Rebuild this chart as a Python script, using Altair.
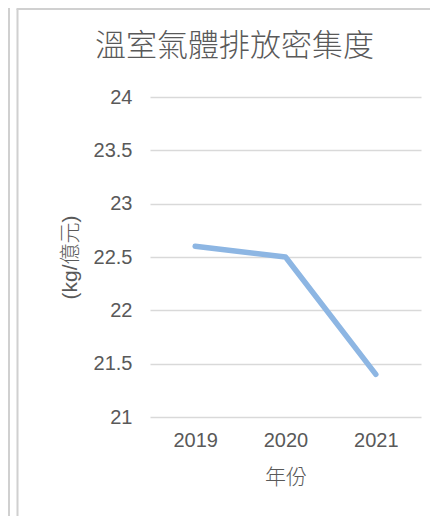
import altair as alt
import pandas as pd

# ---- data ----
years = ["2019", "2020", "2021"]
intensity = [22.6, 22.5, 21.4]
y_ticks = [21, 21.5, 22, 22.5, 23, 23.5, 24]

title_text = "溫室氣體排放密集度"
x_title = "年份"
y_title = "(kg/億元)"

df = pd.DataFrame({"year": years, "value": intensity})

TEXT = "#595959"
GRID = "#d9d9d9"
BORDER = "#d0d0d0"
LATIN = "Liberation Sans, Noto Sans CJK TC"
CJK = "Noto Sans CJK TC"

line = alt.Chart(df).mark_line(
    color="#8DB6E3", strokeWidth=5.5, strokeCap="round", strokeJoin="round"
).encode(
    x=alt.X(
        "year:O",
        scale=alt.Scale(type="point", padding=0.5),
        axis=alt.Axis(
            title=x_title, labelAngle=0, domain=False, ticks=False, grid=False,
            labelFont=LATIN, labelFontSize=20, labelColor=TEXT, labelPadding=13,
            titleFont=CJK, titleFontSize=21, titleColor=TEXT, titleFontWeight=300,
            titlePadding=16,
        ),
    ),
    y=alt.Y(
        "value:Q",
        scale=alt.Scale(domain=[21, 24], nice=False, zero=False),
        axis=alt.Axis(
            values=y_ticks, format="~g", title=y_title, domain=False, ticks=False,
            grid=True, gridColor=GRID, gridWidth=1.5,
            labelFont=LATIN, labelFontSize=20, labelColor=TEXT, labelPadding=18,
            titleFont=LATIN, titleFontSize=21, titleColor=TEXT, titleFontWeight=300,
            titlePadding=13,
        ),
    ),
)

blank = alt.Data(values=[{"k": 0}])
border_outer = alt.Chart(blank).mark_rule(color=BORDER, strokeWidth=2).encode(
    x=alt.value(-141), y=alt.value(-89), y2=alt.value(419)
)
border_inner = alt.Chart(blank).mark_rule(color=BORDER, strokeWidth=2).encode(
    x=alt.value(-132.5), y=alt.value(-88), y2=alt.value(419)
)
border_top = alt.Chart(blank).mark_rule(color=BORDER, strokeWidth=2).encode(
    x=alt.value(-133.5), x2=alt.value(280), y=alt.value(-88)
)

chart = alt.layer(border_outer, border_inner, border_top, line).properties(
    width=271,
    height=320,
    background="white",
    title=alt.TitleParams(
        text=title_text, font=CJK, fontSize=31, fontWeight=300, color=TEXT,
        anchor="middle", dx=-51, offset=-56,
    ),
    padding={"left": 142, "top": 89, "right": 9, "bottom": 99},
    autosize=alt.AutoSizeParams(type="none"),
).configure_view(strokeWidth=0, stroke="transparent")

chart.save("out.html", embed_options={"renderer": "svg", "actions": False})
